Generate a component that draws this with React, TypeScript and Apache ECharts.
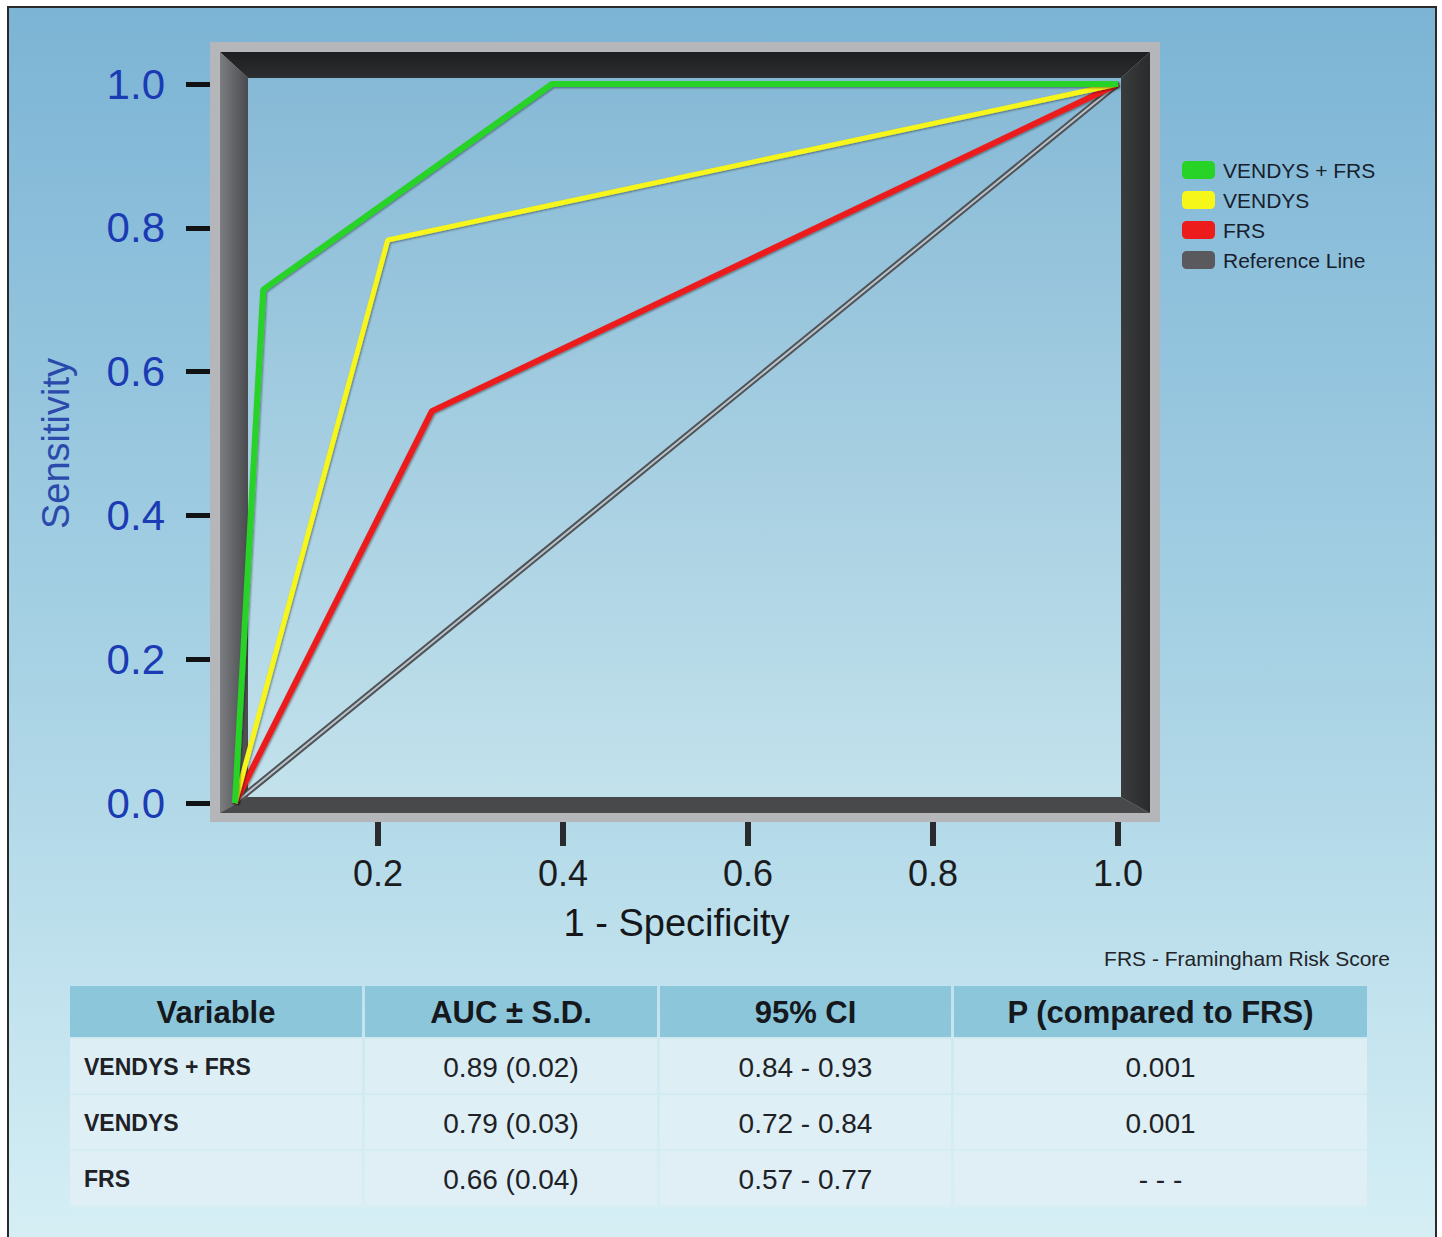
import React, { useEffect, useRef } from "react";
import * as echarts from "echarts";

const seriesNames = ["VENDYS + FRS", "VENDYS", "FRS", "Reference Line"];
const seriesColors = ["#27d327", "#f6f61a", "#ec1c1c", "#5a5a5e"];
const greenPoints = [[0, 0], [0.032, 0.714], [0.359, 1.0], [1.0, 1.0]];
const yellowPoints = [[0, 0], [0.173, 0.783], [1.0, 1.0]];
const redPoints = [[0, 0], [0.223, 0.545], [1.0, 1.0]];
const referencePoints = [[0, 0], [1.0, 1.0]];
const xTickLabels = [0.2, 0.4, 0.6, 0.8, 1.0];

const tableHeaders = ["Variable", "AUC \u00b1 S.D.", "95% CI", "P (compared to FRS)"];
const tableVariables = ["VENDYS + FRS", "VENDYS", "FRS"];
const tableAUC = ["0.89 (0.02)", "0.79 (0.03)", "0.66 (0.04)"];
const tableCI = ["0.84 - 0.93", "0.72 - 0.84", "0.57 - 0.77"];
const tableP = ["0.001", "0.001", "- - -"];

const FONT = "'Liberation Sans', Arial, Helvetica, sans-serif";

function buildGraphics(): any[] {
  const els: any[] = [];
  els.push({
    type: "rect", z: -20, silent: true,
    shape: { x: 8, y: 7, width: 1428, height: 1240 },
    style: {
      fill: new echarts.graphic.LinearGradient(0, 0, 0, 1, [
        { offset: 0, color: "#7cb4d5" },
        { offset: 0.55, color: "#a9d3e5" },
        { offset: 1, color: "#d6eff5" },
      ]),
      stroke: "#2a2a2a", lineWidth: 2,
    },
  });
  els.push({
    type: "rect", z: -19, silent: true,
    shape: { x: 210, y: 42, width: 950, height: 780 },
    style: { fill: "#b4b6b9" },
  });
  els.push({
    type: "rect", z: -18, silent: true,
    shape: { x: 246, y: 76, width: 877, height: 723 },
    style: {
      fill: new echarts.graphic.LinearGradient(0, 0, 0, 1, [
        { offset: 0, color: "#86b9d6" },
        { offset: 1, color: "#c3e2ec" },
      ]),
    },
  });
  els.push({
    type: "polygon", z: -17, silent: true,
    shape: { points: [[220, 52], [1150, 52], [1121, 78], [248, 78]] },
    style: {
      fill: new echarts.graphic.LinearGradient(0, 0, 0, 1, [
        { offset: 0, color: "#1e1e20" },
        { offset: 1, color: "#2c2e30" },
      ]),
    },
  });
  els.push({
    type: "polygon", z: -17, silent: true,
    shape: { points: [[220, 52], [248, 78], [248, 797], [220, 813]] },
    style: {
      fill: new echarts.graphic.LinearGradient(0, 0, 1, 0, [
        { offset: 0, color: "#7c7d80" },
        { offset: 1, color: "#4a4b4e" },
      ]),
    },
  });
  els.push({
    type: "polygon", z: -17, silent: true,
    shape: { points: [[1150, 52], [1150, 813], [1121, 797], [1121, 78]] },
    style: {
      fill: new echarts.graphic.LinearGradient(0, 0, 1, 0, [
        { offset: 0, color: "#3a3b3d" },
        { offset: 1, color: "#2a2b2d" },
      ]),
    },
  });
  els.push({
    type: "polygon", z: -17, silent: true,
    shape: { points: [[248, 797], [1121, 797], [1150, 813], [220, 813]] },
    style: { fill: "#48494b" },
  });
  els.push({
    type: "text", z: 5, silent: true,
    style: {
      text: "FRS - Framingham Risk Score", x: 1390, y: 958,
      align: "right", verticalAlign: "middle",
      font: `21px ${FONT}`, fill: "#222428",
    },
  });
  const colX = [70, 365, 660, 954];
  const colW = [292, 292, 291, 413];
  els.push({
    type: "rect", z: -16, silent: true,
    shape: { x: 70, y: 1037, width: 1297, height: 172 },
    style: { fill: "rgba(225,242,247,0.35)" },
  });
  for (let c = 0; c < 4; c++) {
    els.push({
      type: "rect", z: -15, silent: true,
      shape: { x: colX[c], y: 986, width: colW[c], height: 51 },
      style: { fill: "#8cc6db" },
    });
    els.push({
      type: "text", z: 5, silent: true,
      style: {
        text: tableHeaders[c], x: colX[c] + colW[c] / 2, y: 1012,
        align: "center", verticalAlign: "middle",
        font: `bold 31px ${FONT}`, fill: "#15181c",
      },
    });
  }
  const cols = [tableVariables, tableAUC, tableCI, tableP];
  for (let r = 0; r < 3; r++) {
    const top = 1039 + r * 56;
    for (let c = 0; c < 4; c++) {
      els.push({
        type: "rect", z: -15, silent: true,
        shape: { x: colX[c], y: top, width: colW[c], height: 54 },
        style: { fill: "rgba(226,240,245,0.72)" },
      });
      const isLabel = c === 0;
      els.push({
        type: "text", z: 5, silent: true,
        style: {
          text: cols[c][r],
          x: isLabel ? 84 : colX[c] + colW[c] / 2,
          y: top + 28,
          align: isLabel ? "left" : "center",
          verticalAlign: "middle",
          font: isLabel ? `bold 23px ${FONT}` : `28px ${FONT}`,
          fill: "#1e2226",
        },
      });
    }
  }
  return els;
}

const lineShadow = {
  shadowColor: "rgba(0,0,0,0.45)",
  shadowBlur: 2,
  shadowOffsetX: 1,
  shadowOffsetY: 1,
};

export default function App() {
  const ref = useRef<HTMLDivElement>(null);
  useEffect(() => {
    if (!ref.current) return;
    const chart = echarts.init(ref.current, undefined, { renderer: "svg" });
    const option: any = {
      animation: false,
      backgroundColor: "#ffffff",
      grid: { left: 235, right: 324, top: 84, bottom: 434, containLabel: false },
      graphic: { elements: buildGraphics() },
      legend: {
        orient: "vertical",
        left: 1182,
        top: 158,
        padding: 0,
        itemWidth: 33,
        itemHeight: 18,
        itemGap: 6,
        icon: "roundRect",
        data: seriesNames,
        textStyle: { fontSize: 21, lineHeight: 24, color: "#18202e", fontFamily: FONT, padding: [0, 0, 0, 3] },
        selectedMode: false,
      },
      xAxis: [
        { type: "value", min: 0, max: 1, show: false },
        {
          type: "value",
          min: 0.0454,
          max: 1,
          position: "bottom",
          offset: 19,
          splitLine: { show: false },
          axisLine: { show: false, onZero: false },
          axisTick: {
            show: true,
            length: 24,
            customValues: xTickLabels,
            lineStyle: { color: "#2a2b2e", width: 6 },
          },
          axisLabel: {
            customValues: xTickLabels,
            margin: 33,
            fontSize: 36,
            color: "#1a1c20",
            fontFamily: FONT,
            formatter: (v: number) => v.toFixed(1),
          },
          name: "1 - Specificity",
          nameLocation: "middle",
          nameGap: 82,
          nameTextStyle: { fontSize: 38, color: "#15171a", fontFamily: FONT },
        },
      ],
      yAxis: {
        type: "value",
        min: 0,
        max: 1,
        interval: 0.2,
        offset: 25,
        splitLine: { show: false },
        axisLine: { show: false, onZero: false },
        axisTick: {
          show: true,
          length: 24,
          lineStyle: { color: "#111214", width: 5 },
        },
        axisLabel: {
          margin: 45,
          fontSize: 42,
          color: "#1a3bb3",
          fontFamily: FONT,
          formatter: (v: number) => v.toFixed(1),
        },
        name: "Sensitivity",
        nameLocation: "middle",
        nameGap: 135,
        nameTextStyle: { fontSize: 38, color: "#2a4bab", fontFamily: FONT },
      },
      series: [
        {
          name: "Reference Line", type: "line", xAxisIndex: 0, symbol: "none",
          data: referencePoints, z: 2,
          itemStyle: { color: seriesColors[3] },
          lineStyle: { color: "#505256", width: 6 },
        },
        {
          name: "_refCore", type: "line", xAxisIndex: 0, symbol: "none",
          data: referencePoints, z: 3,
          itemStyle: { color: "#b8c4cc" },
          lineStyle: { color: "#b8c4cc", width: 2 },
        },
        {
          name: "FRS", type: "line", xAxisIndex: 0, symbol: "none",
          data: redPoints, z: 4,
          itemStyle: { color: seriesColors[2] },
          lineStyle: { color: seriesColors[2], width: 6, ...lineShadow },
        },
        {
          name: "VENDYS", type: "line", xAxisIndex: 0, symbol: "none",
          data: yellowPoints, z: 5,
          itemStyle: { color: seriesColors[1] },
          lineStyle: { color: seriesColors[1], width: 5, ...lineShadow },
        },
        {
          name: "VENDYS + FRS", type: "line", xAxisIndex: 0, symbol: "none",
          data: greenPoints, z: 6,
          itemStyle: { color: seriesColors[0] },
          lineStyle: { color: seriesColors[0], width: 6, ...lineShadow },
        },
      ],
    };
    chart.setOption(option);
    return () => chart.dispose();
  }, []);
  return (
    <div
      ref={ref}
      style={{ position: "fixed", left: 0, top: 0, width: 1442, height: 1237 }}
    />
  );
}
